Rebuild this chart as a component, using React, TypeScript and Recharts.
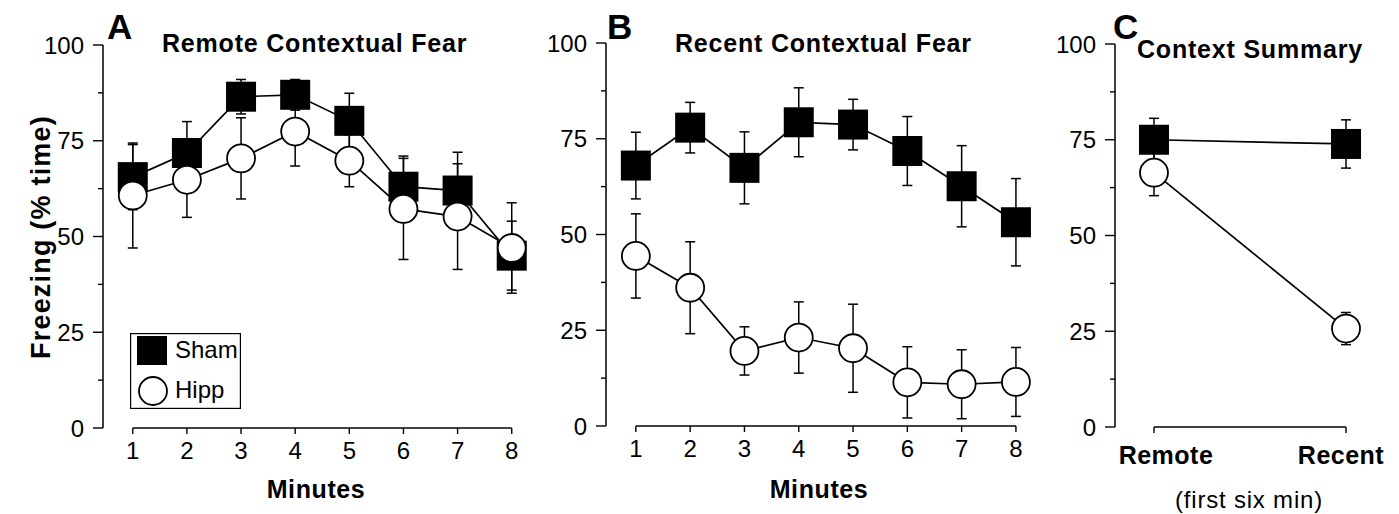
import React from "react";
import {
  LineChart,
  Line,
  XAxis,
  YAxis,
  ErrorBar,
  ReferenceLine,
  Legend,
} from "recharts";

const FONT = '"Liberation Sans", Arial, Helvetica, sans-serif';

// x categories
const minutes = [1, 2, 3, 4, 5, 6, 7, 8];
const yTicks = [0, 12.5, 25, 37.5, 50, 62.5, 75, 87.5, 100];
const seriesNames = ["Sham", "Hipp"];

// A: remote contextual fear
const remoteSham = [65.5, 71.8, 86.5, 87, 80.2, 63, 62, 45];
const remoteShamErr = [8.5, 8.2, 4.5, 4, 7.2, 8, 10, 9];
const remoteHipp = [60.7, 64.8, 70.4, 77.4, 69.8, 57.2, 55.2, 47];
const remoteHippErr = [13.7, 9.8, 10.6, 9, 6.8, 13.2, 13.8, 11.8];

// B: recent contextual fear
const recentSham = [68, 77.9, 67.4, 79.3, 78.7, 71.8, 62.6, 53.2];
const recentShamErr = [8.7, 6.6, 9.4, 9, 6.6, 9, 10.6, 11.4];
const recentHipp = [44.4, 36.1, 19.6, 23.1, 20.3, 11.4, 10.9, 11.5];
const recentHippErr = [11, 12, 6.3, 9.3, 11.5, 9.3, 9, 9];

// C: summary (first six min)
const phaseX = [1, 2];
const phaseLabels = ["Remote", "Recent"];
const summarySham = [75, 73.9];
const summaryShamErr = [5.6, 6.3];
const summaryHipp = [66.4, 25.7];
const summaryHippErr = [6, 4.2];

const remoteData = minutes.map((m, i) => ({
  x: m,
  sham: remoteSham[i],
  shamErr: remoteShamErr[i],
  hipp: remoteHipp[i],
  hippErr: remoteHippErr[i],
}));
const recentData = minutes.map((m, i) => ({
  x: m,
  sham: recentSham[i],
  shamErr: recentShamErr[i],
  hipp: recentHipp[i],
  hippErr: recentHippErr[i],
}));
const summaryData = phaseX.map((p, i) => ({
  x: p,
  sham: summarySham[i],
  shamErr: summaryShamErr[i],
  hipp: summaryHipp[i],
  hippErr: summaryHippErr[i],
}));

function YTick({ x, y, payload }: any) {
  const major = payload.value % 25 === 0;
  return (
    <g>
      <line x1={x} x2={x - (major ? 10 : 5)} y1={y} y2={y} stroke="#000" strokeWidth={1.4} />
      {major && (
        <text x={x - 19} y={y} dy="0.36em" textAnchor="end" fontSize={24} fontFamily={FONT} fill="#000">
          {payload.value}
        </text>
      )}
    </g>
  );
}

function MinuteTick({ x, y, payload }: any) {
  return (
    <g>
      <line x1={x} x2={x} y1={y} y2={y + 6} stroke="#000" strokeWidth={1.4} />
      <text x={x} y={y + 31} textAnchor="middle" fontSize={24} fontFamily={FONT} fill="#000">
        {payload.value}
      </text>
    </g>
  );
}

function PhaseTick({ x, y, payload, index }: any) {
  const i = phaseX.indexOf(payload.value);
  return (
    <g>
      <line x1={x} x2={x} y1={y} y2={y + 6} stroke="#000" strokeWidth={1.4} />
      <text
        x={x + (index === 0 ? 12 : -5)}
        y={y + 37}
        textAnchor="middle"
        fontSize={25}
        fontWeight="bold"
        letterSpacing={0.5}
        fontFamily={FONT}
        fill="#000"
      >
        {phaseLabels[i]}
      </text>
    </g>
  );
}

const SquareDot = (p: any) => (
  <rect key={`sq-${p.index}`} x={p.cx - 15} y={p.cy - 15} width={30} height={30} fill="#000" />
);

function LegendBox() {
  return (
    <svg width={111} height={76} style={{ display: "block" }}>
      <rect x={0.6} y={0.6} width={109.8} height={74.8} fill="#fff" stroke="#000" strokeWidth={1.2} />
      <rect x={7} y={3} width={30} height={29} fill="#000" />
      <text x={45} y={25} fontSize={24} fontFamily={FONT} fill="#000">
        {seriesNames[0]}
      </text>
      <circle cx={23} cy={58} r={14} fill="#fff" stroke="#000" strokeWidth={1.8} />
      <text x={45} y={64.5} fontSize={24} fontFamily={FONT} fill="#000">
        {seriesNames[1]}
      </text>
    </svg>
  );
}

function Panel({
  data,
  width,
  axisWidth,
  top,
  right,
  domain,
  ticks,
  tick,
  segment,
  legend,
}: any) {
  return (
    <LineChart
      width={width}
      height={514}
      data={data}
      margin={{ top, right, left: 0, bottom: 0 }}
    >
      <XAxis
        dataKey="x"
        type="number"
        domain={domain}
        ticks={ticks}
        interval={0}
        axisLine={false}
        tickLine={false}
        tickSize={0}
        tickMargin={0}
        height={514 - top - 383}
        tick={tick}
      />
      <YAxis
        domain={[0, 100]}
        ticks={yTicks}
        interval={0}
        width={axisWidth}
        axisLine={{ stroke: "#000", strokeWidth: 1.5 }}
        tickLine={false}
        tickSize={0}
        tickMargin={0}
        tick={<YTick />}
      />
      <ReferenceLine
        segment={[
          { x: segment[0], y: 0 },
          { x: segment[1], y: 0 },
        ]}
        stroke="#000"
        strokeWidth={1.5}
        ifOverflow="visible"
      />
      {legend && (
        <Legend
          layout="horizontal"
          verticalAlign="middle"
          align="center"
          content={<LegendBox />}
          wrapperStyle={{ position: "absolute", left: 130, top: 333, width: 111, height: 76 }}
        />
      )}
      <Line
        dataKey="sham"
        name={seriesNames[0]}
        type="linear"
        stroke="#000"
        strokeWidth={1.7}
        dot={SquareDot}
        activeDot={false}
        isAnimationActive={false}
      >
        <ErrorBar dataKey="shamErr" direction="y" width={5} stroke="#000" strokeWidth={1.5} />
      </Line>
      <Line
        dataKey="hipp"
        name={seriesNames[1]}
        type="linear"
        stroke="#000"
        strokeWidth={1.7}
        dot={{ r: 14, fill: "#fff", stroke: "#000", strokeWidth: 1.8 }}
        activeDot={false}
        isAnimationActive={false}
      >
        <ErrorBar dataKey="hippErr" direction="y" width={5} stroke="#000" strokeWidth={1.5} />
      </Line>
    </LineChart>
  );
}

export default function App() {
  const bold = { fontFamily: FONT, fontWeight: "bold" as const, fill: "#000" };
  return (
    <div
      style={{
        position: "absolute",
        left: 0,
        top: 0,
        width: 1399,
        height: 514,
        background: "#fff",
        fontFamily: FONT,
      }}
    >
      <div style={{ position: "absolute", left: 0, top: 0 }}>
        <Panel
          data={remoteData}
          width={560}
          axisWidth={103}
          top={45}
          right={18.5}
          domain={[0.45, 8.55]}
          ticks={minutes}
          tick={<MinuteTick />}
          segment={[1, 8]}
          legend
        />
      </div>
      <div style={{ position: "absolute", left: 500, top: 0 }}>
        <Panel
          data={recentData}
          width={560}
          axisWidth={106}
          top={43}
          right={14.2}
          domain={[0.45, 8.55]}
          ticks={minutes}
          tick={<MinuteTick />}
          segment={[1, 8]}
        />
      </div>
      <div style={{ position: "absolute", left: 1040, top: 0 }}>
        <Panel
          data={summaryData}
          width={359}
          axisWidth={75}
          top={44}
          right={14}
          domain={[0.797, 2.203]}
          ticks={phaseX}
          tick={<PhaseTick />}
          segment={[1, 2]}
        />
      </div>
      <svg
        width={1399}
        height={514}
        style={{ position: "absolute", left: 0, top: 0, pointerEvents: "none" }}
      >
        <text x={107} y={39} fontSize={35} {...bold}>A</text>
        <text x={162} y={52} fontSize={25} letterSpacing={0.8} {...bold}>Remote Contextual Fear</text>
        <text x={607} y={39} fontSize={35} {...bold}>B</text>
        <text x={675} y={52} fontSize={25} letterSpacing={0.8} {...bold}>Recent Contextual Fear</text>
        <text x={1113} y={39} fontSize={35} {...bold}>C</text>
        <text x={1137} y={58} fontSize={25} letterSpacing={0.8} {...bold}>Context Summary</text>
        <text
          x={0}
          y={0}
          transform="translate(50 237) rotate(-90)"
          textAnchor="middle"
          fontSize={27}
          letterSpacing={1.2}
          {...bold}
        >
          Freezing (% time)
        </text>
        <text x={316} y={498} textAnchor="middle" fontSize={25} letterSpacing={0.6} {...bold}>Minutes</text>
        <text x={819} y={498} textAnchor="middle" fontSize={25} letterSpacing={0.6} {...bold}>Minutes</text>
        <text x={1249} y={508} textAnchor="middle" fontSize={24} letterSpacing={0.8} fontFamily={FONT} fill="#000">
          (first six min)
        </text>
      </svg>
    </div>
  );
}
